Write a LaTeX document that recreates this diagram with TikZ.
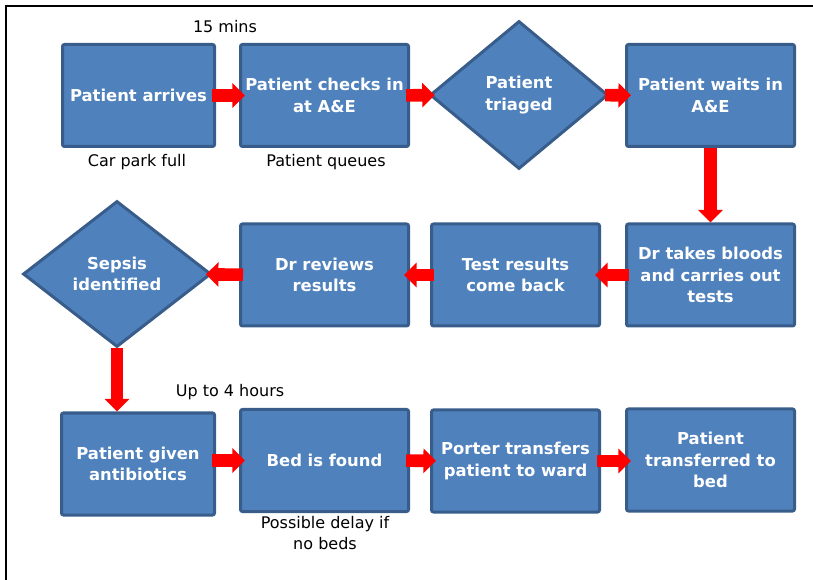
\documentclass[tikz,border=0pt]{standalone}
\usepackage{fontspec}
\setmainfont{DejaVu Sans}
\usetikzlibrary{positioning,shapes.geometric,arrows.meta}

\definecolor{boxfill}{HTML}{4F81BD}
\definecolor{boxline}{HTML}{385D8A}

\tikzset{
  stage/.style={draw=boxline, fill=boxfill, line width=2.25pt, rounded corners=1.5pt,
    text=white, font=\fontsize{12.3}{16}\selectfont\bfseries, align=center,
    minimum width=126pt, minimum height=76.5pt, inner sep=0pt},
  check/.style={diamond, draw=boxline, fill=boxfill, line width=2.25pt,
    text=white, font=\fontsize{12.3}{16}\selectfont\bfseries, align=center, inner sep=0pt},
  note/.style={font=\fontsize{12}{16}\selectfont, align=center},
  flow/.style={red, line width=9.4pt, -{Triangle[length=9.4pt,width=18pt]}},
  into/.style={flow, shorten <=-3pt, shorten >=-4.5pt}
}

\begin{document}
\begin{tikzpicture}[x=0.75pt, y=-0.75pt]
      \useasboundingbox (0,0) rectangle (813,580);
      \draw[line width=1.5pt] (6,580) -- (6,6) -- (813,6);

      % first row
      \node[stage, minimum width=114pt] (arrive) at (138.5,95.5) {Patient arrives};
      \node[stage] (checkin) at (324.5,95.5) {Patient checks in\\at A\&E};
      \node[check, minimum width=133.5pt, minimum height=111pt] (triage) at (519,95) {Patient\\triaged};
      \node[stage] (wait) at (710.5,95.5) {Patient waits in\\A\&E};

      % second row
      \node[stage] (bloods) at (710.5,275) {Dr takes bloods\\and carries out\\tests};
      \node[stage] (results) at (515.5,275) {Test results\\come back};
      \node[stage] (review) at (324.5,275) {Dr reviews\\results};
      \node[check, minimum width=141pt, minimum height=109.5pt] (sepsis) at (117,274) {Sepsis\\identified};

      % third row
      \node[stage, minimum width=114.75pt] (antibio) at (138,464) {Patient given\\antibiotics};
      \node[stage] (bed) at (324.5,460.5) {Bed is found};
      \node[stage] (porter) at (515.5,461) {Porter transfers\\patient to ward};
      \node[stage] (ward) at (710.5,460) {Patient\\transferred to\\bed};

      % delays
      \node[note] (mins) at (225,27) {15 mins};
      \node[note] (carpark) at (137,162) {Car park full};
      \node[note] (queue) at (326,162) {Patient queues};
      \node[note] (hours) at (230,392) {Up to 4 hours};
      \node[note] (nobeds) at (325,533) {Possible delay if\\no beds};

      \path
        (arrive) edge[into] (checkin)
        (checkin) edge[into] (triage)
        (triage) edge[into] (wait)
        (wait) edge[flow] (bloods)
        (bloods) edge[into] (results)
        (results) edge[into] (review)
        (review) edge[into] (sepsis)
        (sepsis.south) edge[flow] (sepsis.south |- antibio.north)
        (antibio.east |- bed) edge[into] (bed.west)
        (bed) edge[into] (porter)
        (porter.east) edge[into] (ward.west |- porter.east);
\end{tikzpicture}
\end{document}
